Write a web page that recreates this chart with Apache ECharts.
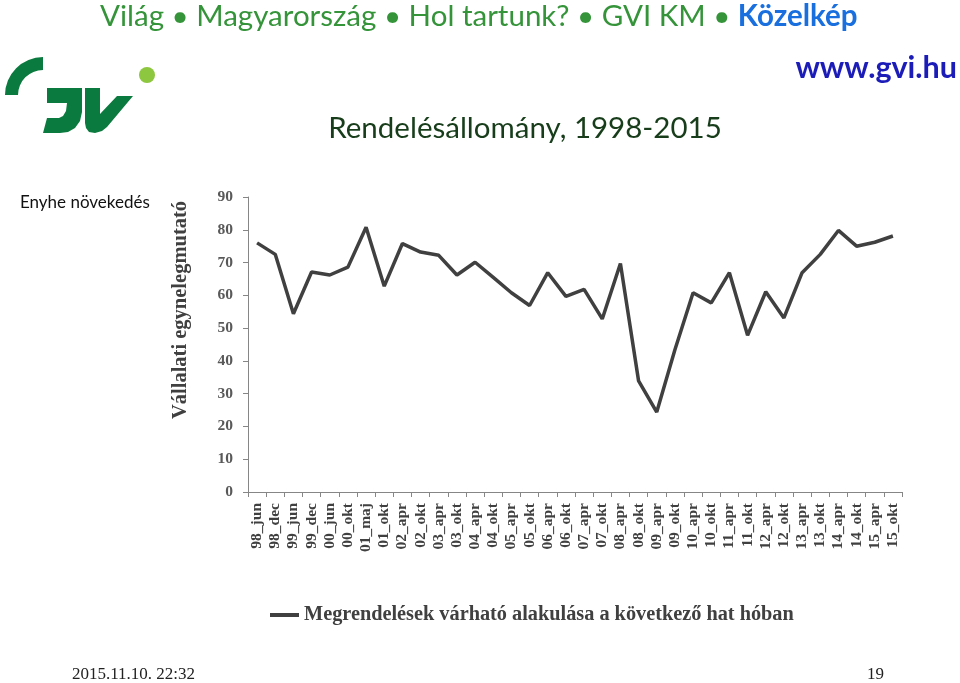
<!DOCTYPE html>
<html>
<head>
<meta charset="utf-8">
<script src="https://cdn.jsdelivr.net/npm/echarts@6/dist/echarts.min.js"></script>
<style>
html,body{margin:0;padding:0;background:#fff;}
#c{width:960px;height:683px;}
</style>
</head>
<body>
<div id="c"></div>
<script>
const categories = ['98_jun','98_dec','99_jun','99_dec','00_jun','00_okt','01_maj','01_okt','02_apr','02_okt','03_apr','03_okt','04_apr','04_okt','05_apr','05_okt','06_apr','06_okt','07_apr','07_okt','08_apr','08_okt','09_apr','09_okt','10_apr','10_okt','11_apr','11_okt','12_apr','12_okt','13_apr','13_okt','14_apr','14_okt','15_apr','15_okt'];
const orders = [76.0,72.5,54.4,67.1,66.2,68.6,80.8,62.8,75.8,73.2,72.2,66.2,70.1,65.5,60.8,56.9,66.9,59.7,61.8,52.8,69.7,33.9,24.4,43.4,60.8,57.7,66.9,47.8,61.1,53.1,66.9,72.5,79.8,75.0,76.2,78.1];
const seriesName = 'Megrendelések várható alakulása a következő hat hóban';
const yTitle = 'Vállalati egynelegmutató';
const yMin = 0, yMax = 90, yStep = 10;

const chart = echarts.init(document.getElementById('c'));
const serif = '"Liberation Serif", "DejaVu Serif", serif';
const sans = 'Lato, "Open Sans", sans-serif';
const logoGreen = '#0b7a3e';

chart.setOption({
  animation: false,
  backgroundColor: '#fff',
  grid: { left: 248, right: 58, top: 197, bottom: 191, containLabel: false },
  legend: {
    data: [seriesName],
    top: 600,
    left: 265,
    icon: 'rect',
    itemWidth: 29,
    itemHeight: 4,
    itemGap: 10,
    textStyle: { fontFamily: serif, fontWeight: 'bold', fontSize: 20.3, color: '#404040' }
  },
  xAxis: {
    type: 'category',
    data: categories,
    boundaryGap: true,
    axisLine: { lineStyle: { color: '#868686', width: 1 } },
    axisTick: { show: true, alignWithLabel: false, length: 5, lineStyle: { color: '#868686' } },
    axisLabel: { interval: 0, rotate: 90, margin: 11, fontFamily: serif, fontWeight: 'bold', fontSize: 15.5, color: '#404040' }
  },
  yAxis: {
    type: 'value',
    min: yMin, max: yMax, interval: yStep,
    axisLine: { show: true, lineStyle: { color: '#868686', width: 1 } },
    axisTick: { show: true, length: 5, lineStyle: { color: '#868686' } },
    splitLine: { show: false },
    axisLabel: { margin: 15, fontFamily: serif, fontWeight: 'bold', fontSize: 15.5, color: '#595959' }
  },
  series: [{
    name: seriesName,
    type: 'line',
    data: orders,
    showSymbol: false,
    symbol: 'none',
    lineStyle: { color: '#404040', width: 3.5 },
    itemStyle: { color: '#404040' }
  }],
  graphic: [
    { type: 'text', x: 100, y: 16, style: {
        text: '{g|Világ • Magyarország • Hol tartunk? • GVI KM • }{b|Közelkép}',
        verticalAlign: 'middle',
        rich: {
          g: { fontFamily: sans, fontSize: 29.5, fill: '#35943a' },
          b: { fontFamily: sans, fontSize: 29.5, fontWeight: 'bold', fill: '#1a6fdf' }
        }
    }},
    { type: 'text', x: 957, y: 68, style: { text: 'www.gvi.hu', fontFamily: sans, fontWeight: 'bold', fontSize: 30.5, fill: '#1c1cb8', align: 'right', verticalAlign: 'middle' } },
    { type: 'text', x: 525, y: 128, style: { text: 'Rendelésállomány, 1998-2015', fontFamily: sans, fontSize: 29.5, fill: '#173d1a', align: 'center', verticalAlign: 'middle' } },
    { type: 'text', x: 20, y: 203, style: { text: 'Enyhe növekedés', fontFamily: sans, fontSize: 17, fill: '#111', verticalAlign: 'middle' } },
    { type: 'text', x: 181, y: 310, rotation: Math.PI / 2, style: { text: yTitle, fontFamily: serif, fontWeight: 'bold', fontSize: 20.5, fill: '#404040', align: 'center', verticalAlign: 'middle' } },
    { type: 'text', x: 72, y: 675, style: { text: '2015.11.10. 22:32', fontFamily: serif, fontSize: 17, fill: '#222', verticalAlign: 'middle' } },
    { type: 'text', x: 884, y: 675, style: { text: '19', fontFamily: serif, fontSize: 17, fill: '#222', align: 'right', verticalAlign: 'middle' } },
    // logo
    { type: 'sector', shape: { cx: 43, cy: 95, r0: 25, r: 38, startAngle: Math.PI, endAngle: Math.PI * 1.5, clockwise: true }, style: { fill: logoGreen } },
    { type: 'polygon', shape: { points: [[47,88],[82,88],[82,112],[80,121],[75,128],[68,132],[60,133],[43,133],[47,118],[59,118],[63,116],[66,111],[67,103],[47,103]] }, style: { fill: logoGreen } },
    { type: 'polygon', shape: { points: [[85,88],[100,88],[100,114],[117,96],[133,96],[107,127],[102,131],[95,133],[89,132],[86,128],[85,123]] }, style: { fill: logoGreen } },
    { type: 'circle', shape: { cx: 147, cy: 75, r: 8 }, style: { fill: '#8dc63f' } }
  ]
});
</script>
</body>
</html>
